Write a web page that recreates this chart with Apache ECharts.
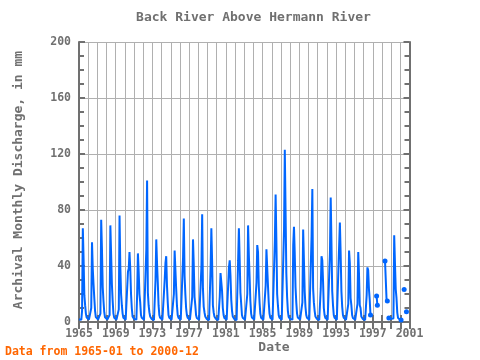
<!DOCTYPE html>
<html><head><meta charset="utf-8">
<script src="https://cdn.jsdelivr.net/npm/echarts@6/dist/echarts.min.js"></script>
<style>html,body{margin:0;padding:0;background:#fff}#c{width:480px;height:360px}</style>
</head><body><div id="c"></div>
<script>
// Monthly discharge (mm), Jan..Dec, null = missing
const y1965 = [2.0,1.6,1.4,1.5,8,67,45,19,12,6,3.2,2.4];
const y1966 = [2.0,1.7,1.5,1.6,10,57,38,27,17,8,3.5,2.5];
const y1967 = [2.1,1.8,1.5,1.5,6,73,52,25,15,7,3.4,2.6];
const y1968 = [2.2,1.8,1.6,1.6,5,69,48,27,15,6,3.1,2.4];
const y1969 = [2.0,1.7,1.5,1.5,9,76,40,20,12,6,3.0,2.3];
const y1970 = [1.9,1.6,1.4,3,36,38,50,38,20,10,4,2.6];
const y1971 = [2.1,1.8,1.6,1.7,20,49,36,20,14,5,3.0,2.3];
const y1972 = [2.0,1.7,1.5,1.6,52,101,21,12,7,4,2.6,2.1];
const y1973 = [1.9,1.6,1.4,1.5,30,59,42,28,12,5,3.0,2.3];
const y1974 = [2.0,1.7,1.5,1.6,30,42,47,26,14,5,3.0,2.4];
const y1975 = [2.0,1.7,1.5,1.6,20,51,50,24,12,5,3.1,2.3];
const y1976 = [1.9,1.6,1.5,1.6,46,74,33,20,10,5,3.0,2.2];
const y1977 = [1.8,1.6,1.4,1.5,18,59,41,18,12,5,2.9,2.2];
const y1978 = [1.9,1.6,1.5,1.6,39,77,24,11,7,4,2.7,2.1];
const y1979 = [1.8,1.6,1.4,1.5,38,67,43,12,7,4,2.8,2.2];
const y1980 = [1.8,1.5,1.4,1.5,18,35,34,22,10,5,2.9,2.2];
const y1981 = [1.8,1.6,1.4,1.5,39,44,33,16,8,4,2.8,2.1];
const y1982 = [1.8,1.5,1.4,1.5,44,67,45,21,13,5,3.0,2.3];
const y1983 = [1.9,1.6,1.5,1.6,20,69,48,32,15,6,3.2,2.4];
const y1984 = [2.0,1.7,1.5,1.6,28,55,50,26,14,6,3.1,2.3];
const y1985 = [1.9,1.6,1.5,1.6,26,52,52,26,14,6,3.1,2.3];
const y1986 = [1.9,1.6,1.5,1.7,58,91,58,20,12,5,3.0,2.3];
const y1987 = [1.9,1.7,1.5,1.7,66,123,80,35,18,8,3.6,2.6];
const y1988 = [2.1,1.8,1.6,1.7,55,68,49,25,14,6,3.2,2.4];
const y1989 = [2.0,1.7,1.5,1.6,14,66,44,22,11,5,3.0,2.3];
const y1990 = [1.9,1.6,1.5,1.7,61,95,24,14,8,4,2.8,2.2];
const y1991 = [1.8,1.6,1.4,1.6,24,47,44,29,10,5,2.9,2.2];
const y1992 = [1.8,1.6,1.4,1.6,49,89,56,22,12,5,3.0,2.3];
const y1993 = [1.9,1.6,1.5,1.7,54,71,49,22,11,5,3.0,2.3];
const y1994 = [1.9,1.6,1.5,1.6,13,51,42,17,12,5,2.9,2.2];
const y1995 = [1.8,1.6,1.4,1.5,13,50,34,12,10,4,2.7,2.1];
const y1996 = [1.8,1.6,1.4,1.5,19,39,37,23.5,15.7,5,null,null];
const y1997 = [null,null,null,null,null,18.6,11.9,null,null,null,null,null];
const y1998 = [null,null,null,null,43.6,30,16,15,null,2.8,2.6,2.5];
const y1999 = [2.4,2.3,2.2,2.5,62,42,23.5,17,6.7,2.9,1.8,1.7];
const y2000 = [1.6,1.5,null,null,null,23.3,null,null,7.4,null,null,null];

const startYear = 1965;
const endYear = 2001;
const yearlyValues = [y1965,y1966,y1967,y1968,y1969,y1970,y1971,y1972,y1973,y1974,y1975,y1976,
  y1977,y1978,y1979,y1980,y1981,y1982,y1983,y1984,y1985,y1986,y1987,y1988,y1989,y1990,
  y1991,y1992,y1993,y1994,y1995,y1996,y1997,y1998,y1999,y2000];
const yTicks = [0,40,80,120,160,200];

const flat = [];
yearlyValues.forEach((arr, yi) => arr.forEach((v, m) => flat.push([startYear + yi + m / 12, v])));
const seriesData = flat.map((p, i) => {
  if (p[1] == null) return {value: [p[0], null]};
  const prevMissing = i > 0 && flat[i - 1][1] == null;
  const nextMissing = i < flat.length - 1 && flat[i + 1][1] == null;
  const item = {value: p};
  if (prevMissing || nextMissing) { item.symbol = 'circle'; item.symbolSize = 5; }
  return item;
});

const FONT = 'DejaVu Sans Mono';
const frame = {show: true, lineStyle: {color: '#707070', width: 2}};
const chart = echarts.init(document.getElementById('c'), null, {renderer: 'canvas'});
chart.setOption({
  animation: false,
  backgroundColor: '#fff',
  grid: {left: 79, right: 70.5, top: 42, bottom: 38, containLabel: false},
  xAxis: [{
    type: 'value', min: startYear, max: endYear, interval: 1, position: 'bottom',
    axisLine: frame,
    axisTick: {show: true, inside: true, length: 7, lineStyle: {color: '#707070', width: 2}},
    axisLabel: {show: true, margin: 6, color: '#707070', fontFamily: FONT, fontSize: 11.5, fontWeight: 'bold',
      formatter: v => ((v - startYear) % 4 === 0 ? String(v) : '')},
    splitLine: {show: true, lineStyle: {color: '#b0b0b0', width: 1}}
  }, {
    type: 'value', min: startYear, max: endYear, interval: 1, position: 'top',
    axisLine: frame,
    axisTick: {show: true, inside: true, length: 7, lineStyle: {color: '#707070', width: 2}},
    axisLabel: {show: false}, splitLine: {show: false}
  }],
  yAxis: [{
    type: 'value', min: yTicks[0], max: yTicks[yTicks.length - 1], interval: 40, position: 'left',
    axisLine: frame,
    axisTick: {show: true, inside: true, length: 6, lineStyle: {color: '#707070', width: 2}},
    minorTick: {show: true, splitNumber: 4, length: 5, lineStyle: {color: '#707070', width: 2}},
    axisLabel: {show: true, margin: 8, color: '#707070', fontFamily: FONT, fontSize: 11.5, fontWeight: 'bold'},
    splitLine: {show: true, lineStyle: {color: '#b0b0b0', width: 1}}
  }, {
    type: 'value', min: yTicks[0], max: yTicks[yTicks.length - 1], interval: 40, position: 'right',
    axisLine: frame,
    axisTick: {show: true, inside: true, length: 6, lineStyle: {color: '#707070', width: 2}},
    minorTick: {show: true, splitNumber: 4, length: 5, lineStyle: {color: '#707070', width: 2}},
    axisLabel: {show: false}, splitLine: {show: false}
  }],
  series: [{
    type: 'line', xAxisIndex: 0, yAxisIndex: 0,
    data: seriesData, showSymbol: true, symbol: 'none', connectNulls: false,
    lineStyle: {color: '#0066ff', width: 2},
    itemStyle: {color: '#0066ff'},
    emphasis: {disabled: true}, z: 3
  }],
  graphic: [
    {type: 'text', x: 253.5, y: 18, style: {text: 'Back River Above Hermann River', fill: '#707070',
      font: 'bold 13px "' + FONT + '"', textAlign: 'center', textVerticalAlign: 'middle'}},
    {type: 'text', x: 274, y: 348, style: {text: 'Date', fill: '#707070',
      font: 'bold 13px "' + FONT + '"', textAlign: 'center', textVerticalAlign: 'middle'}},
    {type: 'text', x: 18.5, y: 180, rotation: Math.PI / 2, style: {text: 'Archival Monthly Discharge, in mm',
      fill: '#707070', font: 'bold 13px "' + FONT + '"', textAlign: 'center', textVerticalAlign: 'middle'}},
    {type: 'text', x: 5, y: 352, style: {text: 'Data from 1965-01 to 2000-12', fill: '#ff6600',
      font: 'bold 11.5px "' + FONT + '"', textAlign: 'left', textVerticalAlign: 'middle'}}
  ]
});
</script></body></html>
